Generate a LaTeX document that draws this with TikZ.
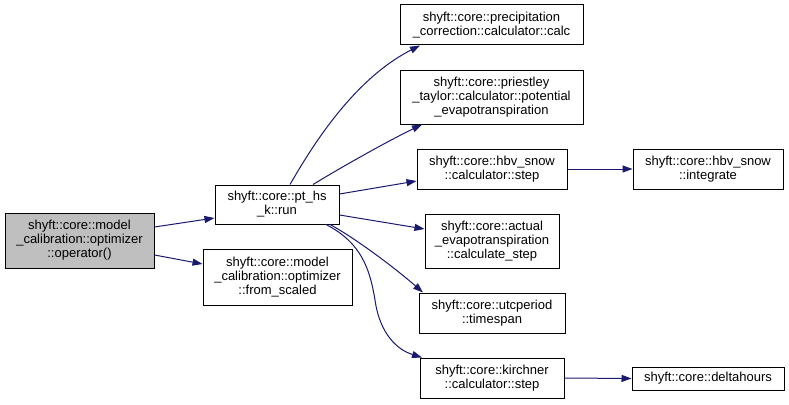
\documentclass[tikz,border=0pt]{standalone}
\usepackage{fontspec}
\setmainfont{Liberation Sans}
\usetikzlibrary{arrows.meta}
\definecolor{edgeblue}{HTML}{191970}
\definecolor{rootgray}{HTML}{BFBFBF}
\begin{document}
\begin{tikzpicture}[x=1pt,y=-1pt,
  fn/.style={draw=black,line width=1pt,fill=white,inner sep=0pt,align=center,
    font=\fontsize{13}{14}\selectfont},
  root/.style={fn,fill=rootgray},
  edge/.style={draw=edgeblue,line width=1pt,-{Triangle[length=10pt,width=7pt]}}]
\useasboundingbox (0,0) rectangle (789,404);
\node[root,minimum width=149pt,minimum height=55pt] (op) at (79.5,240.5)
  {shyft::core::model\\\_calibration::optimizer\\::operator()};
\node[fn,minimum width=124pt,minimum height=39pt] (run) at (277,204.5)
  {shyft::core::pt\_hs\\\_k::run};
\node[fn,minimum width=149pt,minimum height=56pt] (fs) at (277.5,277)
  {shyft::core::model\\\_calibration::optimizer\\::from\_scaled};
\node[fn,minimum width=183pt,minimum height=40pt] (prec) at (491.5,25)
  {shyft::core::precipitation\\\_correction::calculator::calc};
\node[fn,minimum width=183pt,minimum height=54pt] (pri) at (491.5,97)
  {shyft::core::priestley\\\_taylor::calculator::potential\\\_evapotranspiration};
\node[fn,minimum width=150pt,minimum height=40pt] (hbv) at (492,169)
  {shyft::core::hbv\_snow\\::calculator::step};
\node[fn,minimum width=150pt,minimum height=40pt] (int) at (708,169)
  {shyft::core::hbv\_snow\\::integrate};
\node[fn,minimum width=134pt,minimum height=54pt] (act) at (492,241)
  {shyft::core::actual\\\_evapotranspiration\\::calculate\_step};
\node[fn,minimum width=146pt,minimum height=40pt] (utc) at (492,313)
  {shyft::core::utcperiod\\::timespan};
\node[fn,minimum width=144pt,minimum height=40pt] (kir) at (492,378)
  {shyft::core::kirchner\\::calculator::step};
\node[fn,minimum width=152pt,minimum height=23pt] (dh) at (708,378.5)
  {shyft::core::deltahours};

\draw[edge] ([yshift=13.5pt]op.east) -- ([yshift=-13.5pt]run.west);
\draw[edge] ([yshift=-14.5pt]op.east) -- ([yshift=13pt]fs.west);
\draw[edge] ([xshift=13pt]run.north) .. controls (310,150) and (352,80) .. ([xshift=-71.5pt]prec.south);
\draw[edge] ([xshift=36pt]run.north) .. controls (345,165) and (390,140) .. ([xshift=-69.5pt]pri.south);
\draw[edge] ([yshift=10.5pt]run.east) -- ([yshift=-12pt]hbv.west);
\draw[edge] ([yshift=-10.5pt]run.east) -- ([yshift=12pt]act.west);
\draw[edge] ([xshift=53pt]run.south) .. controls (355,238) and (395,268) .. ([xshift=-69pt]utc.north);
\draw[edge] ([xshift=49pt]run.south) .. controls (362,243) and (370,270) .. (375,300)
  .. controls (380,335) and (398,350) .. ([xshift=-70pt]kir.north);
\draw[edge] (hbv.east) -- (int.west);
\draw[edge] (kir.east) -- (dh.west);
\end{tikzpicture}
\end{document}
